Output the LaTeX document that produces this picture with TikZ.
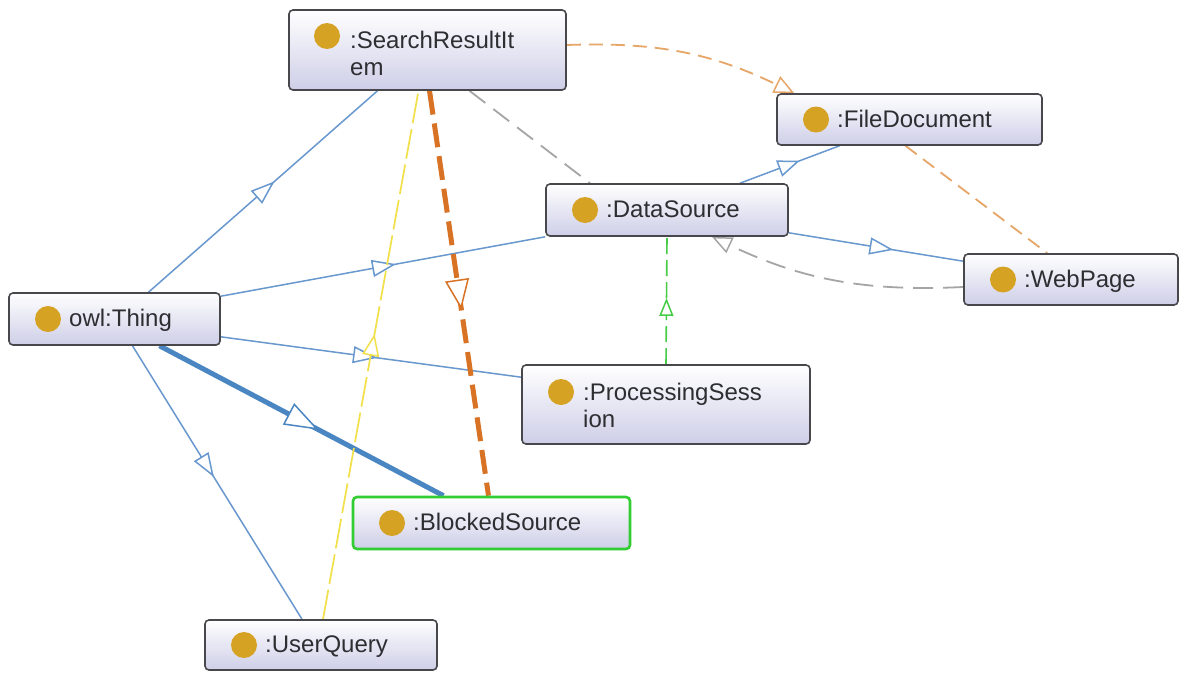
\documentclass[tikz,border=0pt]{standalone}
\usepackage{fontspec}
\setmainfont{Liberation Sans}
\usetikzlibrary{arrows.meta,decorations.markings,backgrounds}
\definecolor{boxborder}{RGB}{72,72,76}
\definecolor{boxbottom}{RGB}{206,206,232}
\definecolor{dotc}{RGB}{214,162,36}
\definecolor{txtc}{RGB}{45,45,50}
\definecolor{bluel}{RGB}{104,152,206}
\definecolor{blueth}{RGB}{74,134,194}
\definecolor{orth}{RGB}{216,114,36}
\definecolor{orl}{RGB}{230,166,104}
\definecolor{grayl}{RGB}{165,165,165}
\definecolor{greenl}{RGB}{70,204,70}
\definecolor{greenb}{RGB}{50,205,50}
\definecolor{yell}{RGB}{242,224,74}
\tikzset{
  cls/.style={draw=boxborder, line width=1.6pt, rounded corners=4pt, top color=white, bottom color=boxbottom, inner sep=0pt},
  dotnode/.style={circle, fill=dotc, minimum size=26pt, inner sep=0pt},
  lbl/.style={inner sep=0pt, text=txtc, font=\fontsize{24}{27}\selectfont},
  midtri/.style n args={3}{postaction={decorate}, decoration={markings, mark=at position #1 with {\arrow{Triangle[length=#2, width=#3, fill=white, line width=1.5pt]}}}},
  subc/.style={draw=bluel, line width=1.5pt},
  subthick/.style={draw=blueth, line width=5pt},
  graydash/.style={draw=grayl, line width=1.8pt, dash pattern=on 20pt off 10pt},
  orldash/.style={draw=orl, line width=1.8pt, dash pattern=on 14pt off 8pt},
  orthdash/.style={draw=orth, line width=5pt, dash pattern=on 24pt off 9pt},
  greendash/.style={draw=greenl, line width=1.6pt, dash pattern=on 16pt off 6pt},
  yeldash/.style={draw=yell, line width=1.7pt, dash pattern=on 30pt off 6pt}
}
\begin{document}
\begin{tikzpicture}[x=1pt, y=-1pt]
\useasboundingbox (0,0) rectangle (1180,672);
% nodes
\node[cls, minimum width=211pt, minimum height=52pt] (thing) at (114.5,319) {};
\node[dotnode] (thingdot) at (48,319) {};
\node[lbl, anchor=base west] (thingtxt) at (69,326.5) {owl:Thing};

\node[cls, minimum width=277pt, minimum height=80pt] (sri) at (427.5,50) {};
\node[dotnode] (sridot) at (327,36) {};
\node[lbl, anchor=north west, align=left] (sritxt) at (350,30.5) {:SearchResultIt\\em};

\node[cls, minimum width=265pt, minimum height=51pt] (fd) at (909.5,119.5) {};
\node[dotnode] (fddot) at (816,119.5) {};
\node[lbl, anchor=base west] (fdtxt) at (837,127) {:FileDocument};

\node[cls, minimum width=242pt, minimum height=52pt] (ds) at (667,210) {};
\node[dotnode] (dsdot) at (585,210) {};
\node[lbl, anchor=base west] (dstxt) at (606,217.5) {:DataSource};

\node[cls, minimum width=214pt, minimum height=51pt] (wp) at (1071,279.5) {};
\node[dotnode] (wpdot) at (1003,279.5) {};
\node[lbl, anchor=base west] (wptxt) at (1024,287) {:WebPage};

\node[cls, minimum width=288pt, minimum height=79pt] (ps) at (666,404.5) {};
\node[dotnode] (psdot) at (561,392) {};
\node[lbl, anchor=north west, align=left] (pstxt) at (583,382.5) {:ProcessingSess\\ion};

\node[cls, draw=greenb, line width=2.6pt, minimum width=277pt, minimum height=52pt] (bs) at (491.5,523) {};
\node[dotnode] (bsdot) at (392,523) {};
\node[lbl, anchor=base west] (bstxt) at (413,530.5) {:BlockedSource};

\node[cls, minimum width=232pt, minimum height=50pt] (uq) at (321,645) {};
\node[dotnode] (uqdot) at (244,645) {};
\node[lbl, anchor=base west] (uqtxt) at (265,652.5) {:UserQuery};

\begin{pgfonlayer}{background}
\fill[white] (0,0) rectangle (1180,672);
% owl:Thing subclass edges
\draw[subc, midtri={0.55}{24pt}{17pt}] ([xshift=34pt]thing.north) -- ([xshift=-50pt]sri.south);
\draw[subc, midtri={0.54}{24pt}{17pt}] ([yshift=-4pt]thing.north east) -- (ds.south west);
\draw[subc, midtri={0.52}{24pt}{17pt}] ([yshift=9pt]thing.south east) -- ([yshift=-13pt]ps.north west);
\draw[subthick, midtri={0.56}{34pt}{24pt}] ([xshift=45pt]thing.south) -- ([xshift=-48pt]bs.north);
\draw[subc, midtri={0.48}{24pt}{17pt}] ([xshift=18pt]thing.south) -- ([xshift=-19pt]uq.north);
% DataSource subclasses
\draw[subc, midtri={0.6}{22pt}{17pt}] ([xshift=73pt]ds.north) -- ([xshift=-70pt]fd.south);
\draw[subc, midtri={0.6}{24pt}{17pt}] ([yshift=4pt]ds.south east) -- ([yshift=-8pt]wp.north west);
% gray dashed
\draw[graydash, -{Triangle[length=20pt, width=17pt, fill=white, line width=1.5pt]}] ([yshift=-7.5pt]wp.west) to[bend left=14] ([xshift=45pt]ds.south);
\draw[graydash] ([xshift=42pt]sri.south) -- ([xshift=-77pt]ds.north);
% light orange dashed
\draw[orldash, -{Triangle[length=20pt, width=18pt, fill=white, line width=1.5pt]}] ([yshift=5pt]sri.east) to[bend left=14] ([xshift=18pt]fd.north west);
\draw[orldash] ([xshift=-4pt]fd.south) -- ([xshift=84pt]wp.north west);
% green dashed
\draw[greendash, midtri={0.52}{18pt}{14pt}] (ps.north) -- (ds.south);
% thick orange dashed
\draw[orthdash, midtri={0.54}{30pt}{24pt}] ([xshift=2pt]sri.south) -- ([xshift=-3pt]bs.north);
% yellow dashed
\draw[yeldash, midtri={0.54}{22pt}{17pt}] ([xshift=2pt]uq.north) -- ([xshift=-9pt]sri.south);
\end{pgfonlayer}
\end{tikzpicture}
\end{document}
